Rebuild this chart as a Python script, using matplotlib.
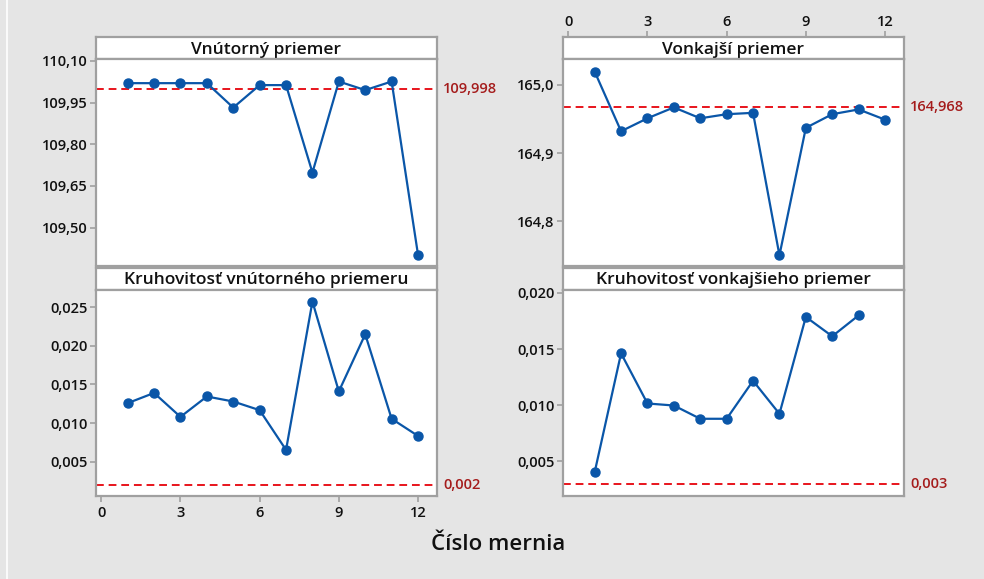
import matplotlib
matplotlib.use("Agg")
import matplotlib.pyplot as plt
from matplotlib.lines import Line2D

plt.rcParams['font.family'] = ['Open Sans', 'DejaVu Sans']

x_meas = list(range(1, 13))
x_meas_11 = list(range(1, 12))

inner_diam = [110.020, 110.020, 110.020, 110.020, 109.932, 110.013, 110.013,
              109.698, 110.026, 109.995, 110.026, 109.402]
outer_diam = [165.0195, 164.932, 164.951, 164.967, 164.951, 164.957, 164.959,
              164.750, 164.937, 164.957, 164.964, 164.949]
inner_round = [0.01258, 0.0139, 0.0108, 0.01344, 0.01279, 0.01167, 0.00652,
               0.02574, 0.0141, 0.0215, 0.01055, 0.00833]
outer_round = [0.00405, 0.01462, 0.01016, 0.00998, 0.0088, 0.0088, 0.01218,
               0.00924, 0.01786, 0.01614, 0.0180]

titles = ["Vnútorný priemer", "Vonkajší priemer",
          "Kruhovitosť vnútorného priemeru", "Kruhovitosť vonkajšieho priemer"]
ref_values = [109.998, 164.968, 0.002, 0.003]
ref_labels = ["109,998", "164,968", "0,002", "0,003"]

yticks_inner = [109.50, 109.65, 109.80, 109.95, 110.10]
yticklabels_inner = ["109,50", "109,65", "109,80", "109,95", "110,10"]
yticks_outer = [164.8, 164.9, 165.0]
yticklabels_outer = ["164,8", "164,9", "165,0"]
yticks_iround = [0.005, 0.010, 0.015, 0.020, 0.025]
yticklabels_iround = ["0,005", "0,010", "0,015", "0,020", "0,025"]
yticks_oround = [0.005, 0.010, 0.015, 0.020]
yticklabels_oround = ["0,005", "0,010", "0,015", "0,020"]
xticks = [0, 3, 6, 9, 12]
xticklabels = ["0", "3", "6", "9", "12"]
x_label = "Číslo mernia"

W, H = 984, 579
fig = plt.figure(figsize=(W / 100, H / 100), dpi=100)
fig.patch.set_facecolor("#e5e5e5")
fig.add_artist(Line2D([6.5 / W, 6.5 / W], [0, 1], color="white", lw=1.2,
                      transform=fig.transFigure))

def fx(px):
    return px / W

def fy(py):
    return 1 - py / H

WT = 600
lefts = [96, 563]
width_px = 340.5
rows = [(37, 59, 265.5), (267.5, 289.5, 496)]

frame_col = "#a0a0a0"
blue = "#0a56a8"
red = "#e8141c"
dark_red = "#a51c1c"
txt = "#111111"

data = [(x_meas, inner_diam), (x_meas, outer_diam),
        (x_meas, inner_round), (x_meas_11, outer_round)]
ylims = [(109.3635, 110.107), (164.735, 165.038), (0.00055, 0.0273), (0.00193, 0.0203)]
ytk = [(yticks_inner, yticklabels_inner), (yticks_outer, yticklabels_outer),
       (yticks_iround, yticklabels_iround), (yticks_oround, yticklabels_oround)]

def style_ticklabels(ax):
    for lab in ax.get_xticklabels() + ax.get_yticklabels():
        lab.set_fontweight(WT)

for i in range(4):
    r, c = divmod(i, 2)
    st, sb, pb = rows[r]
    l = lefts[c]
    sax = fig.add_axes([fx(l), fy(sb), fx(width_px), (sb - st) / H])
    sax.set_xticks([]); sax.set_yticks([])
    sax.set_facecolor("white")
    for s in sax.spines.values():
        s.set_color(frame_col); s.set_linewidth(1.6)
    sax.text(0.5, 0.42, titles[i], ha="center", va="center", fontsize=12.5,
             fontweight=WT, color=txt, transform=sax.transAxes)
    ax = fig.add_axes([fx(l), fy(pb), fx(width_px), (pb - sb) / H])
    ax.set_facecolor("white")
    for s in ax.spines.values():
        s.set_color(frame_col); s.set_linewidth(1.6)
    xs, ys = data[i]
    ax.plot(xs, ys, color=blue, lw=1.6, marker="o", markersize=6.5, zorder=3)
    ax.axhline(ref_values[i], color=red, lw=1.4, ls=(0, (4, 2.5)), zorder=2)
    ax.text(1.02, ref_values[i], ref_labels[i], transform=ax.get_yaxis_transform(),
            ha="left", va="center", fontsize=10.5, color=dark_red, fontweight=WT)
    ax.set_xlim(-0.2, 12.7)
    ax.set_ylim(*ylims[i])
    ax.set_yticks(ytk[i][0])
    ax.set_yticklabels(ytk[i][1])
    ax.tick_params(axis="y", direction="out", length=4, width=1.2, color=frame_col,
                   labelsize=10.5, labelcolor=txt, pad=2)
    if i == 1:
        ax.set_xticks([])
        sax.set_xlim(-0.2, 12.7)
        sax.xaxis.tick_top()
        sax.set_xticks(xticks); sax.set_xticklabels(xticklabels)
        sax.tick_params(axis="x", direction="out", length=4.5, width=1.2, color=frame_col,
                        labelsize=10.5, labelcolor=txt, pad=1)
        style_ticklabels(sax)
    elif i == 2:
        ax.set_xticks(xticks); ax.set_xticklabels(xticklabels)
        ax.tick_params(axis="x", direction="out", length=4.5, width=1.2, color=frame_col,
                       labelsize=10.5, labelcolor=txt, pad=3)
    else:
        ax.set_xticks([])
    style_ticklabels(ax)

fig.text(fx(498), fy(545), x_label, ha="center", va="center", fontsize=16,
         fontweight=WT, color=txt)

fig.savefig("out.png", dpi=100, facecolor=fig.get_facecolor())
